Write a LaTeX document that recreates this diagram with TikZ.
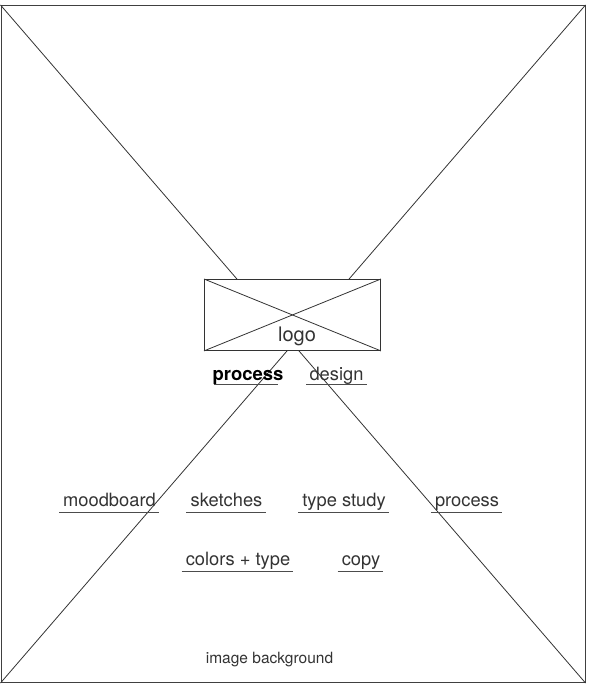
\documentclass[tikz,border=0pt]{standalone}
\usepackage{fontspec}
\setmainfont{TeX Gyre Heros}
\usetikzlibrary{positioning}

\tikzset{
  wire/.style={draw=black!80, line width=0.8pt},
  label/.style={anchor=base, inner sep=0pt, text=black!80, font=\fontsize{18.3}{20}\selectfont},
  uline/.style={draw=black!70, line width=0.9pt}
}

\begin{document}
\begin{tikzpicture}[x=1pt,y=-1pt]
\useasboundingbox (0,0) rectangle (589,684);

% outer frame and its cross
\node[draw=black!75, line width=1pt, minimum width=584pt, minimum height=677pt, inner sep=0pt,
      anchor=north west] (frame) at (0.5,5) {};
\draw[wire] (frame.north west) -- (frame.south east);
\draw[wire] (frame.north east) -- (frame.south west);

% logo placeholder
\node[draw=black!80, fill=white, line width=0.9pt, minimum width=176pt, minimum height=71pt,
      inner sep=0pt, anchor=north west] (logobox) at (204,279) {};
\draw[wire] (logobox.north west) -- (logobox.south east);
\draw[wire] (logobox.north east) -- (logobox.south west);
\node[label, font=\fontsize{20}{22}\selectfont] (logo) at (297,341) {logo};

% top navigation
\node[label, font=\fontsize{18.5}{20}\selectfont\bfseries, text=black] (navprocess) at (248,380) {process};
\node[label] (navdesign) at (336.5,380) {design};
\draw[uline] ([xshift=2pt,yshift=-4pt]navprocess.base west) -- ([xshift=-6pt,yshift=-4pt]navprocess.base east);
\draw[uline] ([xshift=-3pt,yshift=-4pt]navdesign.base west) -- ([xshift=3pt,yshift=-4pt]navdesign.base east);

% process steps
\foreach \name/\x/\y/\txt in {moodboard/109.5/506/moodboard, sketches/226.5/506/sketches,
    typestudy/344/506/type study, process/467/506/process,
    colorstype/238/565/colors + type, copy/361/565/copy}{
  \node[label] (\name) at (\x,\y) {\txt};
  \draw[uline] ([xshift=-4pt,yshift=-6pt]\name.base west) -- ([xshift=3pt,yshift=-6pt]\name.base east);
}

\node[label, font=\fontsize{15.5}{17}\selectfont] (bg) at (269.5,663) {image background};

\end{tikzpicture}
\end{document}
